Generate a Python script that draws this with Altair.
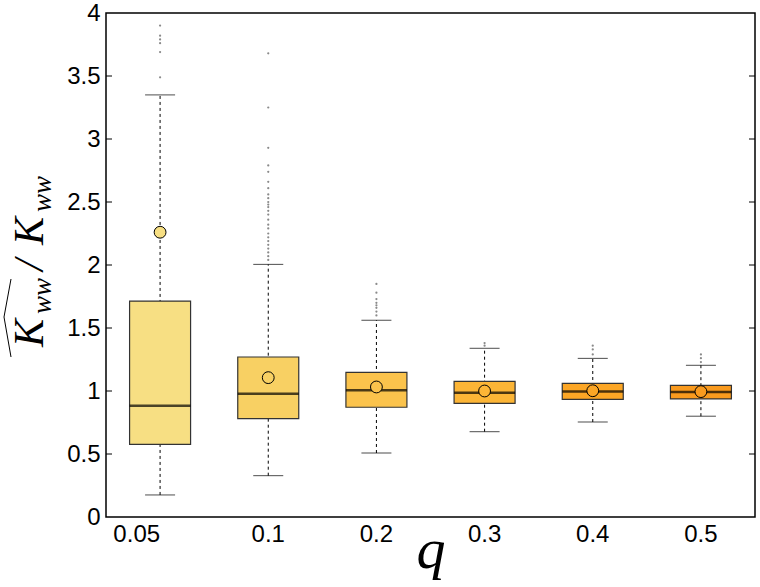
import altair as alt
import pandas as pd

# ---- data ----
q_labels = ["0.05", "0.1", "0.2", "0.3", "0.4", "0.5"]
lower_whisker = [0.175, 0.328, 0.508, 0.677, 0.754, 0.800]
q1 = [0.577, 0.780, 0.871, 0.902, 0.934, 0.937]
median = [0.883, 0.979, 1.005, 0.987, 0.997, 0.992]
q3 = [1.714, 1.270, 1.148, 1.077, 1.061, 1.045]
upper_whisker = [3.350, 2.005, 1.561, 1.339, 1.259, 1.204]
mean = [2.26, 1.106, 1.032, 1.000, 1.002, 0.995]
box_colors = ["#f7df83", "#f8d063", "#fbc34c", "#fcb536", "#fca625", "#f99a1e"]

outliers = {
    "0.05": [3.49, 3.69, 3.76, 3.79, 3.82, 3.90],
    "0.1": [2.04, 2.07, 2.10, 2.13, 2.16, 2.19, 2.22, 2.25, 2.29, 2.32, 2.36,
            2.40, 2.43, 2.46, 2.48, 2.50, 2.53, 2.56, 2.61, 2.66, 2.74, 2.79,
            2.93, 3.25, 3.68],
    "0.2": [1.60, 1.63, 1.66, 1.68, 1.70, 1.73, 1.78, 1.85],
    "0.3": [1.36, 1.38],
    "0.4": [1.29, 1.33, 1.36],
    "0.5": [1.23, 1.26, 1.29],
}
y_ticks = [0.5, 1.0, 1.5, 2.0, 2.5, 3.0, 3.5]

stats = pd.DataFrame({
    "q": q_labels, "lo": lower_whisker, "q1": q1, "med": median,
    "q3": q3, "hi": upper_whisker, "mean": mean, "color": box_colors,
})
out_df = pd.DataFrame(
    [{"q": k, "v": v} for k, vals in outliers.items() for v in vals]
)
tick_df = pd.DataFrame({"t": y_ticks})
one = pd.DataFrame({"a": [0]})

W, H = 649, 504

x_enc = alt.X(
    "q:N", sort=q_labels,
    scale=alt.Scale(paddingInner=0, paddingOuter=0),
    axis=alt.Axis(
        title="q", labelFont="Liberation Sans", labelFontSize=24,
        labelColor="black", labelPadding=5, ticks=False, domain=False,
        labelAngle=0,
        labelAlign={"condition": {"test": "datum.label == '0.05'", "value": "right"},
                    "value": "center"},
        titleFont="Liberation Serif", titleFontStyle="italic",
        titleFontWeight="normal", titleFontSize=58, titleColor="black",
        titleBaseline="alphabetic", titleY=50,
    ),
)
y_scale = alt.Scale(domain=[0, 4], nice=False, zero=False)
y_axis = alt.Axis(
    title=None, values=[0, 0.5, 1, 1.5, 2, 2.5, 3, 3.5, 4], format="~g",
    labelFont="Liberation Sans", labelFontSize=24, labelColor="black",
    labelPadding=6, ticks=False, domain=False, grid=False, labelFlush=False,
    labelOverlap=False,
)

base = alt.Chart(stats)

whisk = base.mark_rule(color="black", strokeWidth=1, strokeDash=[3, 3]).encode(
    x=x_enc, y=alt.Y("lo:Q", scale=y_scale, axis=y_axis), y2="hi:Q"
)
caps_hi = base.mark_tick(size=30, thickness=1, color="black").encode(
    x=alt.X("q:N", sort=q_labels), y="hi:Q"
)
caps_lo = base.mark_tick(size=30, thickness=1, color="black").encode(
    x=alt.X("q:N", sort=q_labels), y="lo:Q"
)
boxes = base.mark_bar(size=61, stroke="#333333", strokeWidth=1.2).encode(
    x=alt.X("q:N", sort=q_labels), y="q1:Q", y2="q3:Q",
    color=alt.Color("color:N", scale=None),
)
med = base.mark_tick(size=61, thickness=2.5, color="black").encode(
    x=alt.X("q:N", sort=q_labels), y="med:Q"
)
means = base.mark_circle(size=140, stroke="black", strokeWidth=1, opacity=1).encode(
    x=alt.X("q:N", sort=q_labels), y="mean:Q",
    color=alt.Color("color:N", scale=None),
)
outs = alt.Chart(out_df).mark_circle(size=5, color="#8a8a8a", opacity=1).encode(
    x=alt.X("q:N", sort=q_labels), y="v:Q"
)
ticks_l = alt.Chart(tick_df).mark_rule(color="black", strokeWidth=1).encode(
    y="t:Q", x=alt.value(0), x2=alt.value(6)
)
ticks_r = alt.Chart(tick_df).mark_rule(color="black", strokeWidth=1).encode(
    y="t:Q", x=alt.value(W - 6), x2=alt.value(W)
)

# y-axis title: hat(K_ww) / K_ww, composed from rotated text pieces
def txt(s, size, x, y):
    return alt.Chart(one).mark_text(
        text=s, angle=270, font="Liberation Serif", fontStyle="italic",
        fontSize=size, align="center", baseline="alphabetic", color="black",
    ).encode(x=alt.value(x), y=alt.value(y))

title_parts = [
    txt("K", 42, -63, 320),
    txt("ww", 27, -55, 283),
    txt("/", 42, -63, 252),
    txt("K", 42, -63, 218),
    txt("ww", 27, -55, 181),
]
hat1 = alt.Chart(one).mark_rule(color="black", strokeWidth=1).encode(
    x=alt.value(-95), y=alt.value(266), x2=alt.value(-102), y2=alt.value(304)
)
hat2 = alt.Chart(one).mark_rule(color="black", strokeWidth=1).encode(
    x=alt.value(-102), y=alt.value(304), x2=alt.value(-95), y2=alt.value(344)
)

chart = alt.layer(
    whisk, caps_hi, caps_lo, boxes, med, means, outs, ticks_l, ticks_r,
    *title_parts, hat1, hat2,
).properties(
    width=W, height=H,
    autosize=alt.AutoSizeParams(type="none"),
    padding={"left": 106, "top": 13, "right": 5, "bottom": 70},
    background="white",
).configure_view(stroke="black", strokeWidth=1.5)

chart.save("out.html", embed_options={"renderer": "svg", "actions": False})
